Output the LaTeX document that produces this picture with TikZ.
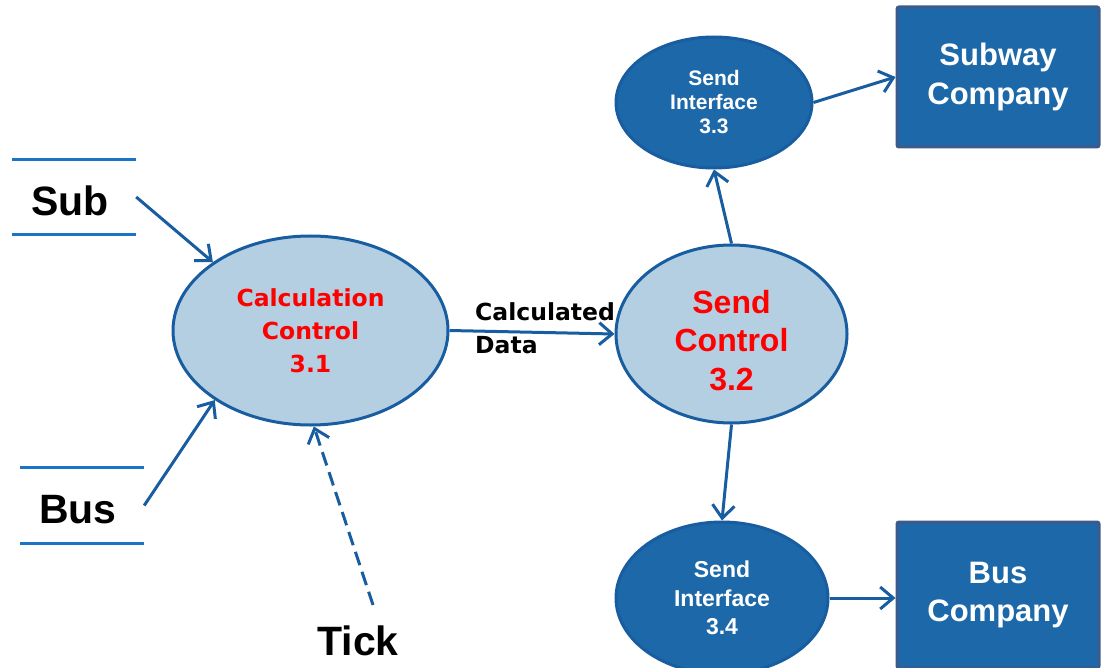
\documentclass[tikz,border=0pt]{standalone}
\usepackage{fontspec}
\setmainfont{Liberation Sans}
\newfontfamily\dejavu{DejaVu Sans}
\usetikzlibrary{shapes.geometric,arrows.meta}
\definecolor{lightfill}{HTML}{B4CEE2}
\definecolor{strokeblue}{HTML}{185DA0}
\definecolor{darkfill}{HTML}{1C68A8}
\definecolor{boxborder}{HTML}{3C5A8C}
\definecolor{storeblue}{HTML}{1A73C4}
\definecolor{procred}{HTML}{FF0000}
\tikzset{
  lightproc/.style={ellipse, draw=strokeblue, fill=lightfill, line width=3pt, inner sep=0pt,
    align=center, text=procred},
  darkproc/.style={ellipse, draw=strokeblue, fill=darkfill, line width=3pt, inner sep=0pt,
    align=center, text=white},
  extbox/.style={rectangle, draw=boxborder, fill=darkfill, line width=3pt, rounded corners=2pt,
    inner sep=0pt, align=center, text=white, font=\bfseries\fontsize{31}{38.5}\selectfont},
  store/.style={inner sep=0pt, minimum width=124pt, minimum height=75pt,
    font=\bfseries\fontsize{41}{45}\selectfont, text depth=0pt},
  storeline/.style={draw=storeblue, line width=3pt},
  flow/.style={draw=strokeblue, line width=3pt, -{Straight Barb[length=13pt,width=22pt,line width=3pt]}},
}
\begin{document}
\begin{tikzpicture}[x=1pt,y=-1pt]
\useasboundingbox (0,0) rectangle (1107,668);
% processes
\node[lightproc, minimum width=275pt, minimum height=189pt,
  font=\dejavu\bfseries\fontsize{23.5}{33}\selectfont]
  (calc) at (310.5,330.5) {Calculation\\Control\\3.1};
\node[lightproc, minimum width=231pt, minimum height=178pt,
  font=\bfseries\fontsize{32}{38.5}\selectfont, text height=112pt, text depth=0pt]
  (send) at (731.5,334) {Send\\Control\\3.2};
\node[darkproc, minimum width=196pt, minimum height=131pt,
  font=\bfseries\fontsize{21}{24}\selectfont]
  (si3) at (714,102.5) {Send\\Interface\\3.3};
\node[darkproc, minimum width=212pt, minimum height=152pt,
  font=\bfseries\fontsize{23}{28.5}\selectfont]
  (si4) at (722,598) {Send\\Interface\\3.4};
% external entities
\node[extbox, minimum width=202pt, minimum height=140pt] (subway) at (998,77) {Subway\\Company};
\node[extbox, minimum width=202pt, minimum height=146pt] (busco) at (998,595) {Bus\\Company};
% data stores
\node[store, text height=38pt] (sub) at (74,197) {\hspace*{-8pt}Sub};
\draw[storeline] (sub.north west) -- (sub.north east);
\draw[storeline] (sub.south west) -- (sub.south east);
\node[store, text height=36pt] (bus) at (82,505.5) {\hspace*{-8pt}Bus};
\draw[storeline] (bus.north west) -- (bus.north east);
\draw[storeline] (bus.south west) -- (bus.south east);
% tick
\node[inner sep=0pt, font=\bfseries\fontsize{41}{45}\selectfont] (tick) at (358,641) {Tick};
\coordinate (tickstart) at (373,605);
% label
\node[anchor=west, align=left, inner sep=0pt, font=\dejavu\bfseries\fontsize{23.5}{33}\selectfont]
  (cdlabel) at (475,328) {Calculated\\Data};
% flows
\draw[flow] (sub.east) -- (calc.145);
\draw[flow] (bus.east) -- (calc.216);
\draw[flow, dashed, dash pattern=on 14pt off 7pt] (tickstart) -- (calc.272);
\draw[flow] (calc.east) -- (send.west);
\draw[flow] (send.north) -- (si3.south);
\draw[flow] (send.south) -- (si4.north);
\draw[flow] (si3.east) -- (subway.west);
\draw[flow] (si4.east) -- (si4.east -| busco.west);
\end{tikzpicture}
\end{document}
